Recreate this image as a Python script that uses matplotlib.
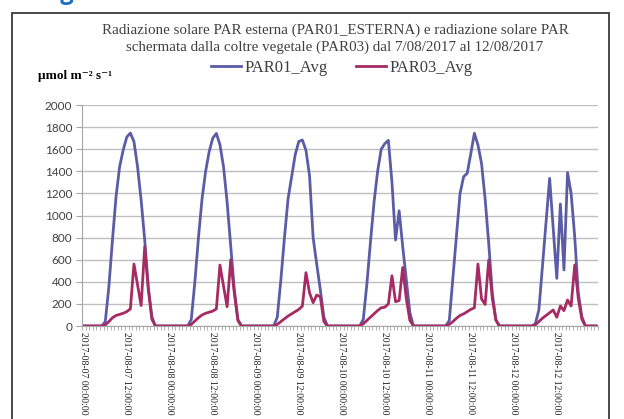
import matplotlib
matplotlib.use("Agg")
import matplotlib.pyplot as plt
import numpy as np

# hourly values, one list of 24 per day (00:00 .. 23:00)
par01_0807 = [0, 0, 0, 0, 0, 0, 40, 356, 778, 1170, 1442, 1593, 1710, 1746, 1668, 1442, 1140, 778, 356, 84, 0, 0, 0, 0]
par01_0808 = [0, 0, 0, 0, 0, 0, 60, 400, 800, 1150, 1400, 1580, 1700, 1743, 1640, 1440, 1120, 720, 330, 60, 0, 0, 0, 0]
par01_0809 = [0, 0, 0, 0, 0, 0, 80, 420, 800, 1150, 1351, 1550, 1670, 1683, 1590, 1360, 800, 560, 330, 80, 0, 0, 0, 0]
par01_0810 = [0, 0, 0, 0, 0, 0, 60, 380, 760, 1120, 1400, 1600, 1650, 1680, 1300, 778, 1043, 720, 420, 120, 0, 0, 0, 0]
par01_0811 = [0, 0, 0, 0, 0, 0, 50, 430, 810, 1200, 1351, 1382, 1560, 1744, 1638, 1471, 1150, 750, 300, 55, 0, 0, 0, 0]
par01_0812 = [0, 0, 0, 0, 0, 0, 20, 145, 540, 940, 1336, 880, 431, 1104, 507, 1388, 1200, 808, 296, 84, 0, 0, 0, 0]

par03_0807 = [0, 0, 0, 0, 0, 0, 10, 40, 75, 95, 105, 115, 130, 155, 561, 370, 185, 718, 330, 60, 0, 0, 0, 0]
par03_0808 = [0, 0, 0, 0, 0, 0, 15, 45, 75, 100, 115, 125, 135, 155, 552, 360, 175, 600, 300, 50, 0, 0, 0, 0]
par03_0809 = [0, 0, 0, 0, 0, 0, 15, 40, 65, 90, 110, 130, 150, 180, 483, 300, 211, 280, 265, 40, 0, 0, 0, 0]
par03_0810 = [0, 0, 0, 0, 0, 0, 20, 50, 80, 110, 140, 165, 170, 200, 455, 220, 230, 530, 250, 50, 0, 0, 0, 0]
par03_0811 = [0, 0, 0, 0, 0, 0, 15, 40, 70, 95, 110, 130, 150, 165, 561, 245, 195, 597, 250, 54, 0, 0, 0, 0]
par03_0812 = [0, 0, 0, 0, 0, 0, 10, 40, 70, 95, 120, 145, 79, 181, 139, 235, 181, 552, 250, 60, 0, 0, 0, 0]

days = ["2017-08-07", "2017-08-08", "2017-08-09", "2017-08-10", "2017-08-11", "2017-08-12"]
tick_labels = [d + " " + h for d in days for h in ("00:00:00", "12:00:00")]

par01 = par01_0807 + par01_0808 + par01_0809 + par01_0810 + par01_0811 + par01_0812
par03 = par03_0807 + par03_0808 + par03_0809 + par03_0810 + par03_0811 + par03_0812

blue = "#5b5ca6"
red = "#a62b63"
serif = ["Liberation Serif", "DejaVu Serif"]

fig = plt.figure(figsize=(6.24, 4.19), dpi=100)
W, H = 624.0, 419.0

# document heading cut off by the crop (only descenders visible)
fig.text(40 / W, 1 + 1 / H, "Figura 4 - Radiazione solare PAR esterna e schermata, agosto 2017",
         color="#1f6fc4", fontsize=17, fontweight="bold", family="Open Sans", va="baseline")

# outer chart frame
fig.patches.append(plt.Rectangle((11.5 / W, -0.01), 597 / W, 1 - 13.5 / H + 0.01,
                                 transform=fig.transFigure, fill=False,
                                 edgecolor="#3a3a3a", linewidth=1.3))

ax = fig.add_axes([82 / W, 1 - 326 / H, 516 / W, 221 / H])
x = np.arange(len(par01))
ax.plot(x, par01, color=blue, linewidth=2.0, label="PAR01_Avg", solid_joinstyle="round")
ax.plot(x, par03, color=red, linewidth=2.0, label="PAR03_Avg", solid_joinstyle="round")

ax.set_xlim(-0.5, len(par01) - 0.5)
ax.set_ylim(0, 2000)
ax.set_yticks(np.arange(0, 2001, 200))
ax.yaxis.grid(True, color="#bfbfbf", linewidth=1.0)
ax.set_axisbelow(True)
for s in ("top", "right"):
    ax.spines[s].set_visible(False)
ax.spines["left"].set_color("#a6a6a6")
ax.spines["bottom"].set_color("#a6a6a6")
ax.tick_params(axis="y", length=4, color="#a6a6a6", labelsize=8.5, labelcolor="#404040", pad=3)
for t in ax.get_yticklabels():
    t.set_family("Lato")

ax.set_xticks(np.arange(0, len(par01), 12))
ax.set_xticklabels(tick_labels, rotation=270, family=serif, fontsize=7.0, color="#202020")
ax.set_xticks(np.arange(-0.5, len(par01), 1), minor=True)
ax.tick_params(axis="x", which="major", length=0, pad=4)
ax.tick_params(axis="x", which="minor", length=3, color="#a6a6a6")

fig.text(335 / W, 1 - 30 / H, "Radiazione solare PAR esterna (PAR01_ESTERNA) e radiazione solare PAR",
         ha="center", va="center", family=serif, fontsize=10.8, color="#404040")
fig.text(335 / W, 1 - 47 / H, "schermata dalla coltre vegetale (PAR03) dal 7/08/2017 al 12/08/2017",
         ha="center", va="center", family=serif, fontsize=10.8, color="#404040")
fig.text(38 / W, 1 - 76 / H, "µmol m⁻² s⁻¹", ha="left", va="center",
         family=serif, fontsize=9.5, fontweight="bold", color="#000000")

fig.legend(loc="center", bbox_to_anchor=(342 / W, 1 - 68 / H), ncol=2, frameon=False,
           prop={"family": serif, "size": 12}, handlelength=1.8, handletextpad=0.2,
           columnspacing=1.7, labelcolor="#404040")

fig.savefig("out.png", dpi=100)
